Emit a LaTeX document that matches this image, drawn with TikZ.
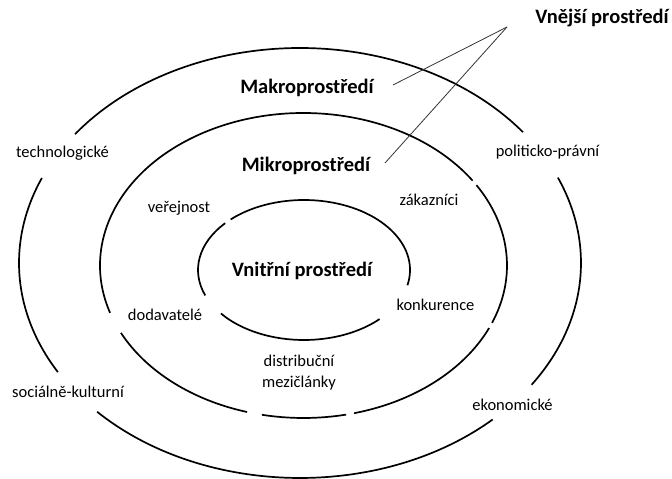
\documentclass[tikz,border=0pt]{standalone}
\usepackage{fontspec}
\setmainfont{Carlito}
\begin{document}
\begin{tikzpicture}[x=1pt,y=1pt,
  ring/.style={line width=1.7pt,black},
  pointer/.style={line width=0.8pt,black!80},
  lbl/.style={font=\fontsize{16.5}{21}\selectfont,inner sep=0pt},
  head/.style={font=\fontsize{20.5}{24}\selectfont\bfseries,inner sep=0pt}]
\useasboundingbox (0,0) rectangle (672,479);
% one broken ring segment: center, start angle, end angle, x radius, y radius
\newcommand\ringseg[5]{\draw[ring] ([shift={(#2:#4pt and #5pt)}]#1) arc[start angle=#2,end angle=#3,x radius=#4pt,y radius=#5pt];}
\coordinate (co) at (300,216);
\coordinate (cm) at (303.5,213.5);
\coordinate (ci) at (304,209);
% outer ring (macro environment)
\ringseg{co}{37.5}{143.2}{281}{215}
\ringseg{co}{156.7}{210.5}{281}{215}
\ringseg{co}{223.8}{313.3}{281}{215}
\ringseg{co}{-34.5}{23.4}{281}{215}
% middle ring (micro environment)
\ringseg{cm}{33.8}{198.1}{203.5}{152.5}
\ringseg{cm}{206.2}{253.9}{203.5}{152.5}
\ringseg{cm}{258.2}{282.1}{203.5}{152.5}
\ringseg{cm}{284.4}{335.8}{203.5}{152.5}
\ringseg{cm}{-22.1}{31.8}{203.5}{152.5}
% inner ring (internal environment)
\ringseg{ci}{-12.6}{133.8}{106}{70}
\ringseg{ci}{138}{201.3}{106}{70}
\ringseg{ci}{218.4}{315.5}{106}{70}
% headings
\node[head] (vnejsi) at (602,461) {Vnější prostředí};
\node[head] (makro) at (307,391) {Makroprostředí};
\node[head] (mikro) at (306,313) {Mikroprostředí};
\node[head] (vnitrni) at (302,208) {Vnitřní prostředí};
% factor labels
\node[lbl] (tech) at (62.5,326) {technologické};
\node[lbl] (soc) at (68,87) {sociálně-kulturní};
\node[lbl] (pol) at (547.5,327) {politicko-právní};
\node[lbl] (eko) at (512.5,74) {ekonomické};
\node[lbl] (ver) at (179,271) {veřejnost};
\node[lbl] (zak) at (429,279) {zákazníci};
\node[lbl] (dod) at (165,164) {dodavatelé};
\node[lbl] (kon) at (435.5,174) {konkurence};
\node[lbl,align=center] (dist) at (299,106.5) {distribuční\\mezičlánky};
% pointer lines from the outer-environment heading
\coordinate (apex) at (507,452);
\coordinate (makroend) at (393,394);
\coordinate (mikroend) at (385,316);
\draw[pointer] (apex) -- (makroend);
\draw[pointer] (apex) -- (mikroend);
\end{tikzpicture}
\end{document}
